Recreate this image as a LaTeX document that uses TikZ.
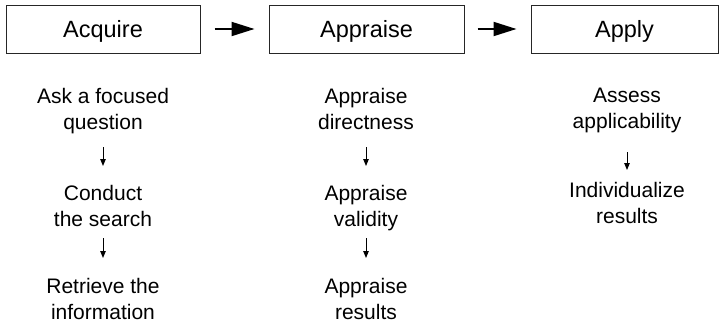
\documentclass[tikz,border=0pt]{standalone}
\usepackage{fontspec}
\setmainfont{Liberation Sans}
\usetikzlibrary{arrows.meta}
\begin{document}
\begin{tikzpicture}[x=1pt,y=-1pt,
  stage/.style={draw=black!85,line width=1pt,minimum height=48pt,inner sep=0pt,text height=17pt,text depth=0.4pt,font=\fontsize{23.5}{26}\selectfont},
  item/.style={align=center,inner sep=0pt,anchor=base,font=\fontsize{21}{25.5}\selectfont},
  bigarrow/.style={line width=2pt,-{Triangle[length=23pt,width=14pt]}},
  smallarrow/.style={line width=1pt,-{Triangle[length=7pt,width=5.5pt]}}]
\useasboundingbox (0,0) rectangle (719,324);
\node[stage,minimum width=194pt] (acq) at (103,29) {Acquire};
\node[stage,minimum width=195pt] (apr) at (366.5,29) {Appraise};
\node[stage,minimum width=187pt] (apl) at (624.5,29) {Apply};
\draw[bigarrow,shorten <=14pt,shorten >=14pt] (acq.east) -- (apr.west);
\draw[bigarrow,shorten <=13pt,shorten >=14pt] (apr.east) -- (apl.west);

\node[item] (a1) at (103,129) {Ask a focused\\question};
\node[item] (a2) at (103,226) {Conduct\\the search};
\node[item] (a3) at (103,319) {Retrieve the\\information};
\node[item] (b1) at (366,129) {Appraise\\directness};
\node[item] (b2) at (366,226) {Appraise\\validity};
\node[item] (b3) at (366,319) {Appraise\\results};
\node[item] (c1) at (627,128) {Assess\\applicability};
\node[item] (c2) at (627,223) {Individualize\\results};

\draw[smallarrow] ([yshift=-18pt]a1.base) -- ([yshift=60pt]a2.base);
\draw[smallarrow] ([yshift=-12pt]a2.base) -- ([yshift=61pt]a3.base);
\draw[smallarrow] ([yshift=-18pt]b1.base) -- ([yshift=60pt]b2.base);
\draw[smallarrow] ([yshift=-12pt]b2.base) -- ([yshift=61pt]b3.base);
\draw[smallarrow] ([yshift=-24pt]c1.base) -- ([yshift=53pt]c2.base);
\end{tikzpicture}
\end{document}
